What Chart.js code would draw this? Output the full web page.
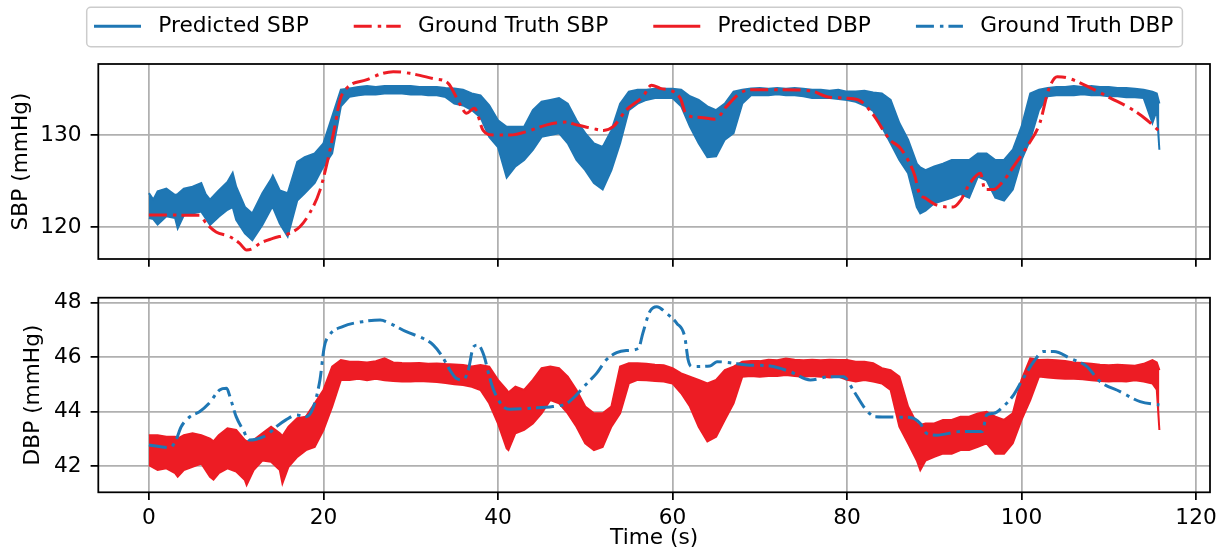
<html>
<head>
<script src="https://cdn.jsdelivr.net/npm/chart.js@4.4.0/dist/chart.umd.min.js"></script>
<style>
  body { margin: 0; background: white; }
  #wrap { position: relative; width: 1220px; height: 550px; }
  canvas { position: absolute; left: 0; }
  #sbpChart { top: 0px; }
  #dbpChart { top: 280px; }
</style>
</head>
<body>
<div id="wrap">
  <canvas id="sbpChart" width="1220" height="280"></canvas>
  <canvas id="dbpChart" width="1220" height="270"></canvas>
</div>

<script>
  // predicted SBP: upper and lower edge of the noisy trace (s, mmHg)
  var sbpTime = [0, 0.5, 1, 2, 3, 3.3, 4, 5, 6, 6.5,
    7, 8, 9, 9.6, 10, 11, 11.85, 13, 14, 14.2,
    15, 15.9, 17, 17.85, 19, 20, 21, 22, 23, 24,
    25, 26, 27, 28, 29, 30, 31, 32, 33, 34,
    35, 36, 37, 38, 39, 40, 41, 42, 43, 44,
    45, 46, 47, 48, 49, 50, 51, 52, 53, 54,
    55, 56, 57, 58, 59, 60, 61, 62, 63, 64,
    65, 66, 67, 68, 69, 70, 71, 72, 73, 74,
    75, 76, 77, 78, 79, 80, 81, 82, 83, 84,
    85, 86, 87, 88, 88.4, 89, 90, 91, 92, 93,
    94, 95, 96, 97, 98, 99, 100, 101, 102, 103,
    104, 105, 106, 107, 108, 109, 110, 111, 112, 113,
    114, 115, 115.5, 115.8];
  var sbpHigh = [123.7, 123.0, 123.9, 124.2, 123.5, 123.6, 124.2, 124.4, 124.8, 123.6,
    123.0, 124.0, 124.9, 125.9, 124.4, 122.2, 121.5, 123.7, 125.2, 125.6,
    124.0, 123.7, 127.1, 127.6, 128.0, 129.1, 132.0, 134.9, 135.05, 135.2,
    135.3, 135.2, 135.3, 135.3, 135.3, 135.3, 135.2, 135.2, 135.2, 135.1,
    135.05, 134.9, 134.5, 134.3, 133.2, 131.6, 130.9, 130.9, 130.9, 132.7,
    133.6, 133.8, 134.0, 133.4, 131.6, 130.2, 129.1, 128.7, 130.5, 133.4,
    134.7, 134.9, 134.9, 135.0, 135.0, 135.0, 134.9, 134.2, 133.8, 133.1,
    132.7, 133.4, 134.7, 134.9, 135.05, 135.1, 135.0, 135.1, 135.0, 135.1,
    135.0, 134.9, 134.9, 134.8, 134.9, 134.7, 134.7, 134.8, 134.6, 134.5,
    133.8, 131.3, 129.5, 126.9, 126.5, 126.2, 126.6, 126.9, 127.3, 127.3,
    127.3, 128.0, 128.0, 127.3, 127.3, 128.4, 130.9, 134.5, 134.9, 135.1,
    135.2, 135.2, 135.3, 135.2, 135.3, 135.2, 135.2, 135.1, 135.1, 135.0,
    134.9, 134.7, 134.5, 133.4];
  var sbpLow = [121.0, 120.9, 120.3, 121.2, 121.0, 119.9, 121.3, 121.5, 121.7, 121.0,
    120.25, 121.15, 121.9, 122.2, 120.8, 119.35, 118.6, 120.25, 122.0, 122.2,
    120.4, 119.0, 122.9, 123.7, 124.8, 126.6, 128.0, 133.1, 134.15, 134.3,
    134.4, 134.4, 134.5, 134.5, 134.5, 134.4, 134.4, 134.3, 134.3, 134.1,
    133.4, 133.2, 132.7, 131.9, 129.8, 128.7, 125.4, 126.6, 127.3, 128.4,
    129.8, 130.0, 130.2, 129.1, 127.3, 126.2, 124.8, 124.1, 126.2, 129.1,
    132.7, 133.4, 133.8, 134.0, 134.0, 134.0, 133.1, 130.9, 129.1, 127.6,
    127.7, 129.5, 130.2, 133.4, 134.3, 134.3, 134.3, 134.4, 134.3, 134.3,
    134.2, 134.0, 134.0, 134.0, 133.9, 133.8, 133.6, 133.2, 132.6, 130.9,
    129.1, 127.3, 125.85, 122.2, 121.5, 121.8, 122.6, 122.9, 123.2, 123.6,
    123.2, 125.5, 125.1, 123.2, 122.9, 124.1, 127.3, 129.5, 132.7, 134.2,
    134.3, 134.3, 134.3, 134.4, 134.3, 134.3, 134.2, 134.2, 134.1, 134.1,
    134.0, 131.3, 132.7, 128.4];

  // ground truth SBP
  var gtSbpTime = [0, 5.8, 6.6, 7.7, 9.25, 10.4, 11.2, 11.9, 12.7, 14.2,
    16.1, 17.3, 18.4, 19.6, 20.5, 21.3, 21.9, 22.8, 24.9, 26.8,
    28.0, 29.9, 32.6, 34.3, 35.6, 36.4, 37.3, 38.3, 39.45, 41.4,
    43.7, 45.6, 47.7, 49.0, 50.9, 52.1, 53.2, 54.7, 56.6, 57.6,
    58.6, 60.1, 60.9, 61.6, 63.2, 64.9, 66.2, 67.7, 68.9, 72.3,
    75.8, 77.7, 80.0, 81.5, 83.0, 84.9, 86.1, 87.2, 87.8, 88.2,
    89.1, 90.3, 92.2, 93.0, 94.1, 95.3, 95.8, 96.8, 97.9, 99.1,
    100.6, 102.1, 103.1, 104.1, 105.2, 107.5, 110.2, 112.8, 114.4, 115.8];
  var gtSbpValue = [121.33, 121.3, 120.4, 119.5, 119.0, 118.26, 117.54, 117.7, 118.26, 118.8,
    119.35, 120.07, 121.5, 124.0, 127.3, 130.9, 133.8, 135.2, 135.96, 136.68,
    136.86, 136.68, 136.1, 135.6, 133.4, 132.35, 132.9, 130.5, 130.0, 130.0,
    130.5, 131.1, 131.4, 131.1, 130.7, 130.5, 130.9, 132.7, 134.15, 135.4,
    135.05, 134.7, 133.97, 132.2, 131.9, 131.7, 133.1, 134.5, 134.9, 134.9,
    134.8, 134.15, 133.97, 133.7, 132.2, 129.5, 128.6, 126.9, 125.5, 123.9,
    123.1, 122.4, 122.2, 122.9, 124.8, 125.85, 124.1, 124.1, 125.0, 126.6,
    128.7, 131.3, 134.9, 136.3, 136.2, 135.3, 134.0, 132.7, 131.6, 130.4];

  // predicted DBP: upper and lower edge of the noisy trace
  var dbpTime = [0, 1, 2, 3, 3.3, 4, 5, 6, 7, 7.4,
    8, 9, 10, 11, 11.2, 12, 13, 14, 15, 15.3,
    16, 17, 18, 19, 20, 21, 22, 23, 24, 25,
    26, 27, 28, 29, 30, 31, 32, 33, 34, 35,
    36, 37, 38, 39, 40, 41, 41.2, 42, 43, 44,
    45, 46, 47, 48, 49, 50, 51, 52, 53, 54,
    55, 56, 57, 58, 59, 60, 61, 62, 63, 64,
    65, 66, 67, 68, 69, 70, 71, 72, 73, 74,
    75, 76, 77, 78, 79, 80, 81, 82, 83, 84,
    85, 86, 87, 88, 88.4, 89, 90, 91, 92, 93,
    94, 95, 96, 97, 98, 99, 100, 101, 102, 103,
    104, 105, 106, 107, 108, 109, 110, 111, 112, 113,
    114, 115, 115.5, 115.8];
  var dbpHigh = [43.13, 43.13, 43.07, 43.07, 43.0, 43.13, 43.2, 43.13, 43.0, 42.9,
    43.13, 43.38, 43.32, 42.95, 42.9, 42.95, 43.2, 43.44, 43.2, 43.1,
    43.44, 43.75, 43.81, 44.3, 44.79, 45.65, 45.89, 45.83, 45.83, 45.8,
    45.85, 45.95, 45.8, 45.78, 45.77, 45.78, 45.75, 45.76, 45.74, 45.73,
    45.71, 45.65, 45.71, 45.65, 45.16, 44.79, 44.7, 44.91, 44.79, 45.16,
    45.59, 45.65, 45.59, 45.28, 44.79, 44.18, 43.93, 43.93, 44.18, 45.65,
    45.77, 45.77, 45.75, 45.72, 45.7, 45.59, 45.4, 45.28, 45.16, 45.03,
    45.16, 45.52, 45.65, 45.83, 45.85, 45.85, 45.9, 45.88, 45.95, 45.9,
    45.88, 45.9, 45.88, 45.9, 45.89, 45.89, 45.83, 45.83, 45.77, 45.59,
    45.52, 45.28, 44.18, 43.56, 43.5, 43.56, 43.56, 43.69, 43.69, 43.81,
    43.81, 43.93, 43.99, 43.81, 43.69, 43.93, 45.16, 45.95, 45.89, 45.9,
    45.88, 45.85, 45.8, 45.78, 45.75, 45.72, 45.7, 45.72, 45.7, 45.68,
    45.75, 45.89, 45.8, 45.52];
  var dbpLow = [42.03, 41.85, 41.91, 41.73, 41.6, 41.85, 41.97, 42.09, 41.6, 41.5,
    41.73, 41.91, 41.79, 41.48, 41.3, 41.85, 42.2, 42.15, 41.85, 41.36,
    41.97, 42.33, 42.58, 42.7, 43.32, 44.18, 45.16, 45.16, 45.2, 45.15,
    45.2, 45.15, 45.12, 45.1, 45.1, 45.12, 45.1, 45.08, 45.05, 45.0,
    44.97, 44.91, 44.79, 44.3, 43.56, 42.64, 42.58, 43.2, 43.32, 43.56,
    43.93, 44.42, 44.3, 43.93, 43.44, 42.83, 42.58, 42.7, 43.44, 43.93,
    45.03, 45.16, 45.15, 45.12, 45.1, 45.03, 44.67, 44.18, 43.44, 42.9,
    43.07, 43.69, 44.3, 45.28, 45.3, 45.28, 45.3, 45.3, 45.34, 45.3,
    45.28, 45.3, 45.28, 45.25, 45.28, 45.16, 45.1, 45.16, 45.1, 45.03,
    44.79, 43.44, 42.83, 42.2, 41.85, 42.2, 42.33, 42.45, 42.45, 42.58,
    42.58, 42.7, 42.83, 42.45, 42.45, 42.83, 43.69, 44.42, 45.28, 45.25,
    45.22, 45.2, 45.2, 45.18, 45.15, 45.12, 45.1, 45.12, 45.1, 45.15,
    45.1, 45.03, 44.8, 43.32];

  // ground truth DBP
  var gtDbpTime = [0, 2.4, 3.1, 3.7, 4.7, 5.8, 6.9, 8.1, 8.9, 9.4,
    10.0, 10.8, 11.5, 12.3, 13.5, 14.6, 15.7, 16.9, 18.0, 18.8,
    19.6, 20.1, 20.7, 22.2, 24.5, 26.5, 27.6, 29.5, 31.4, 32.6,
    33.5, 34.5, 35.2, 36.0, 36.6, 37.2, 37.7, 38.4, 39.0, 39.5,
    40.6, 41.4, 43.7, 46.3, 47.9, 49.0, 50.2, 51.3, 52.4, 53.6,
    54.7, 56.1, 56.6, 57.4, 58.2, 59.3, 60.5, 61.4, 61.8, 62.2,
    64.3, 65.1, 66.6, 68.5, 71.2, 73.5, 75.8, 78.1, 79.6, 80.7,
    81.9, 82.6, 83.2, 87.2, 88.4, 89.1, 90.3, 93.0, 95.5, 96.0,
    96.8, 97.9, 99.1, 100.2, 101.4, 102.5, 103.7, 105.6, 107.5, 109.0,
    111.3, 113.6, 115.8];
  var gtDbpValue = [42.77, 42.67, 42.95, 43.44, 43.81, 43.99, 44.3, 44.79, 44.85, 44.42,
    43.81, 43.32, 42.95, 42.98, 43.13, 43.44, 43.69, 43.87, 43.81, 44.12,
    45.16, 46.38, 46.81, 47.12, 47.3, 47.36, 47.24, 46.93, 46.69, 46.44,
    46.08, 45.52, 45.22, 45.16, 45.52, 46.38, 46.44, 46.05, 45.3, 44.79,
    44.18, 44.08, 44.12, 44.18, 44.3, 44.61, 45.03, 45.4, 45.89, 46.16,
    46.24, 46.32, 46.87, 47.67, 47.85, 47.61, 47.24, 46.75, 45.89, 45.65,
    45.67, 45.83, 45.79, 45.71, 45.67, 45.46, 45.16, 45.28, 45.28, 44.79,
    44.18, 43.92, 43.81, 43.78, 43.56, 43.2, 43.13, 43.26, 43.26, 43.87,
    43.93, 44.18, 44.61, 45.22, 45.83, 46.2, 46.2, 45.95, 45.65, 45.1,
    44.73, 44.36, 44.24];

  var timeTicks = [0, 20, 40, 60, 80, 100, 120];
  var sbpTicks = [120, 130];
  var dbpTicks = [42, 44, 46, 48];

  var blue = '#1f77b4';
  var red = '#ed1c24';
  var gtDash = [18, 6, 3.5, 5];
  var fontSize = 21.7;
  var fontFamily = 'DejaVu Sans';

  Chart.defaults.font.family = fontFamily;
  Chart.defaults.font.size = fontSize;
  Chart.defaults.color = '#000';

  var legendEntries = [
    { label: 'Predicted SBP', color: blue, dash: [] },
    { label: 'Ground Truth SBP', color: red, dash: gtDash },
    { label: 'Predicted DBP', color: red, dash: [] },
    { label: 'Ground Truth DBP', color: blue, dash: gtDash }
  ];

  function toPoints(xs, ys) {
    return xs.map(function (x, i) { return { x: x, y: ys[i] }; });
  }

  // matplotlib like box around the plot area
  var framePlugin = {
    id: 'frame',
    afterDraw: function (chart) {
      var a = chart.chartArea;
      var ctx = chart.ctx;
      ctx.save();
      ctx.strokeStyle = '#000';
      ctx.lineWidth = 1.76;
      ctx.strokeRect(a.left, a.top, a.right - a.left, a.bottom - a.top);
      ctx.restore();
    }
  };

  // one legend box for both panels, drawn above the top panel
  var legendPlugin = {
    id: 'boxLegend',
    afterDraw: function (chart) {
      var ctx = chart.ctx;
      ctx.save();
      ctx.font = fontSize + 'px "' + fontFamily + '"';
      var x = 94, y = 26.3, handle = 47, textGap = 64.3, colGap = 45;
      var items = [];
      legendEntries.forEach(function (e) {
        var w = ctx.measureText(e.label).width;
        items.push({ e: e, x: x, w: w });
        x += textGap + w + colGap;
      });
      var last = items[items.length - 1];
      var left = 86.7, right = last.x + textGap + last.w + 9;
      ctx.beginPath();
      ctx.roundRect(left, 7.3, right - left, 39.4, 4);
      ctx.fillStyle = 'rgba(255,255,255,0.8)';
      ctx.fill();
      ctx.strokeStyle = '#cccccc';
      ctx.lineWidth = 1.5;
      ctx.stroke();

      items.forEach(function (it) {
        ctx.beginPath();
        ctx.setLineDash(it.e.dash);
        ctx.lineCap = 'butt';
        ctx.strokeStyle = it.e.color;
        ctx.lineWidth = 3;
        ctx.moveTo(it.x, y);
        ctx.lineTo(it.x + handle, y);
        ctx.stroke();
        ctx.setLineDash([]);
        ctx.fillStyle = '#000';
        ctx.textBaseline = 'middle';
        ctx.textAlign = 'left';
        ctx.fillText(it.e.label, it.x + textGap, y);
      });
      ctx.restore();
    }
  };

  function fixedTicks(values) {
    return function (scale) {
      scale.ticks = values.map(function (v) { return { value: v }; });
    };
  }

  function makeChart(canvasId, cfg) {
    var datasets = [
      {
        label: cfg.gtLabel,
        data: toPoints(cfg.gtTime, cfg.gtValue),
        borderColor: cfg.gtColor,
        backgroundColor: cfg.gtColor,
        borderWidth: 3,
        borderDash: gtDash,
        borderCapStyle: 'butt',
        cubicInterpolationMode: 'monotone',
        pointRadius: 0,
        fill: false
      },
      {
        label: cfg.predLabel,
        data: toPoints(cfg.predTime, cfg.predHigh),
        borderColor: cfg.predColor,
        backgroundColor: cfg.predColor,
        borderWidth: 2,
        pointRadius: 0,
        fill: '+1'
      },
      {
        label: cfg.predLabel + ' (lower)',
        data: toPoints(cfg.predTime, cfg.predLow),
        borderColor: cfg.predColor,
        backgroundColor: cfg.predColor,
        borderWidth: 2,
        pointRadius: 0,
        fill: false
      }
    ];

    return new Chart(document.getElementById(canvasId), {
      type: 'line',
      data: { datasets: datasets },
      options: {
        responsive: false,
        animation: false,
        layout: { padding: { left: 0, right: 10, top: cfg.padTop, bottom: 0 } },
        plugins: { legend: { display: false }, tooltip: { enabled: false } },
        scales: {
          x: {
            type: 'linear',
            min: -5.8,
            max: 121.6,
            afterBuildTicks: fixedTicks(timeTicks),
            ticks: { display: cfg.showX, padding: 5, maxRotation: 0 },
            grid: { color: '#b0b0b0', lineWidth: 1.76, tickColor: '#000', tickWidth: 1.76, tickLength: 7.7 },
            border: { display: false },
            title: {
              display: cfg.showX,
              text: 'Time (s)',
              font: { size: fontSize, lineHeight: 1 },
              padding: { top: 0, bottom: 0.5 }
            },
            afterFit: function (scale) {
              scale.height = cfg.xHeight;
              scale.paddingLeft = 0;
              scale.paddingRight = 0;
            }
          },
          y: {
            type: 'linear',
            min: cfg.yMin,
            max: cfg.yMax,
            afterBuildTicks: fixedTicks(cfg.yTicks),
            ticks: { padding: 9 },
            grid: { color: '#b0b0b0', lineWidth: 1.76, tickColor: '#000', tickWidth: 1.76, tickLength: 7.7 },
            border: { display: false },
            title: {
              display: true,
              text: cfg.yTitle,
              font: { size: fontSize, lineHeight: 1 },
              padding: { top: cfg.yTitlePad, bottom: 0 }
            },
            afterFit: function (scale) {
              scale.width = 98.3;
              scale.paddingTop = 0;
              scale.paddingBottom = 0;
            }
          }
        }
      },
      plugins: cfg.plugins
    });
  }

  var sbpChart = makeChart('sbpChart', {
    gtLabel: 'Ground Truth SBP', gtTime: gtSbpTime, gtValue: gtSbpValue, gtColor: red,
    predLabel: 'Predicted SBP', predTime: sbpTime, predHigh: sbpHigh, predLow: sbpLow, predColor: blue,
    yMin: 116.57, yMax: 137.69, yTicks: sbpTicks, yTitle: 'SBP (mmHg)', yTitlePad: 10.2,
    padTop: 64, xHeight: 21, showX: false,
    plugins: [framePlugin, legendPlugin]
  });

  var dbpChart = makeChart('dbpChart', {
    gtLabel: 'Ground Truth DBP', gtTime: gtDbpTime, gtValue: gtDbpValue, gtColor: blue,
    predLabel: 'Predicted DBP', predTime: dbpTime, predHigh: dbpHigh, predLow: dbpLow, predColor: red,
    yMin: 41.03, yMax: 48.18, yTicks: dbpTicks, yTitle: 'DBP (mmHg)', yTitlePad: 22.8,
    padTop: 17.7, xHeight: 57.7, showX: true,
    plugins: [framePlugin]
  });
</script>
</body>
</html>
